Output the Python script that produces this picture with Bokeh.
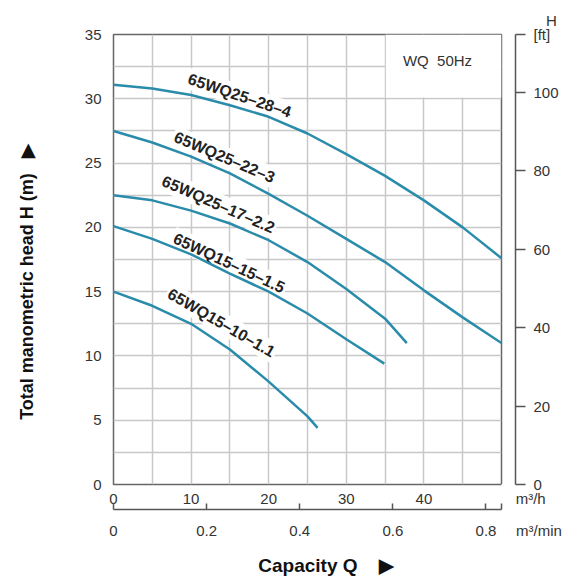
import numpy as np
from bokeh.plotting import figure
from bokeh.models import Range1d, LinearAxis, FixedTicker, ColumnDataSource
from bokeh.core.properties import value
from bokeh.embed import file_html
from bokeh.resources import INLINE

# ---------------- data ----------------
Q_MAX = 50          # m3/h
H_MAX = 35          # m
q_ticks = [0, 10, 20, 30, 40]
q_grid = [0, 5, 10, 15, 20, 25, 30, 35, 40, 45, 50]
h_ticks = [0, 5, 10, 15, 20, 25, 30, 35]
h_grid = [0, 2.5, 5, 7.5, 10, 12.5, 15, 17.5, 20, 22.5, 25, 27.5, 30, 32.5, 35]
min_ticks = [0, 0.2, 0.4, 0.6, 0.8]
min_tick_labels = ["0", "0.2", "0.4", "0.6", "0.8"]
ft_ticks = [0, 20, 40, 60, 80, 100]

pump_names = ["65WQ25–28–4", "65WQ25–22–3", "65WQ25–17–2.2", "65WQ15–15–1.5", "65WQ15–10–1.1"]

q_28_4 = [0, 5, 10, 15, 20, 25, 30, 35, 40, 45, 50]
h_28_4 = [31.1, 30.8, 30.3, 29.5, 28.6, 27.3, 25.7, 24.0, 22.1, 20.0, 17.6]

q_22_3 = [0, 5, 10, 15, 20, 25, 30, 35, 40, 45, 50]
h_22_3 = [27.5, 26.6, 25.5, 24.2, 22.6, 20.9, 19.1, 17.3, 15.1, 13.0, 11.0]

q_17_22 = [0, 5, 10, 15, 20, 25, 30, 35, 37.8]
h_17_22 = [22.5, 22.1, 21.3, 20.3, 19.0, 17.3, 15.2, 12.9, 11.0]

q_15_15 = [0, 5, 10, 15, 20, 25, 30, 34.9]
h_15_15 = [20.1, 19.1, 17.9, 16.4, 15.0, 13.3, 11.3, 9.4]

q_10_11 = [0, 5, 10, 15, 20, 25, 26.3]
h_10_11 = [15.0, 13.9, 12.5, 10.5, 8.0, 5.3, 4.4]

label_q = [16.25, 14.3, 13.5, 14.9, 13.9]
label_h = [30.26, 25.46, 21.79, 17.23, 12.58]
label_angle_deg = [-18.5, -23, -23.5, -25, -30]

# ---------------- styling ----------------
FONT = "Liberation Sans"
CURVE = "#2a8caa"
TXT = "#333333"
AXC = "#555555"
NB = "\u00a0"

Q_MIN_MAX = Q_MAX / 60
FT_MAX = H_MAX / 0.3048

p = figure(width=571, height=584, output_backend="svg", toolbar_location=None,
           x_range=Range1d(0, Q_MAX), y_range=Range1d(0, H_MAX),
           min_border_left=113, min_border_right=70, min_border_top=34, min_border_bottom=100,
           background_fill_color="white", border_fill_color="white")
p.extra_x_ranges = {"min": Range1d(0, Q_MIN_MAX)}
p.extra_y_ranges = {"ft": Range1d(0, FT_MAX)}

p.outline_line_color = "#666666"
p.outline_line_width = 1.5

p.xgrid.ticker = FixedTicker(ticks=q_grid)
p.ygrid.ticker = FixedTicker(ticks=h_grid)
p.xgrid.grid_line_color = "#c8c8c8"
p.ygrid.grid_line_color = "#c8c8c8"
p.xgrid.grid_line_width = 1.5
p.ygrid.grid_line_width = 1.5


def style_tick_labels(ax):
    ax.major_label_text_font = FONT
    ax.major_label_text_font_size = "15px"
    ax.major_label_text_color = TXT
    ax.minor_tick_line_color = None


# bottom axis m3/h  (unit written as the label of the range-end tick)
xa = p.xaxis[0]
xa.ticker = FixedTicker(ticks=q_ticks + [Q_MAX])
xa.major_label_overrides = {Q_MAX: NB * 14 + "m³/h"}
style_tick_labels(xa)
xa.axis_line_color = None
xa.major_tick_line_color = None
xa.major_tick_in = 0
xa.major_tick_out = 0
xa.major_label_standoff = 5

# left axis m
ya = p.yaxis[0]
ya.ticker = FixedTicker(ticks=h_ticks)
style_tick_labels(ya)
ya.axis_line_color = None
ya.major_tick_line_color = None
ya.major_tick_in = 0
ya.major_tick_out = 0
ya.major_label_standoff = 12
ya.axis_label = "Total manometric head H (m)" + NB * 3 + "▶" + NB * 9
ya.axis_label_text_font = FONT
ya.axis_label_text_font_style = "bold"
ya.axis_label_text_font_size = "18px"
ya.axis_label_text_color = "#111111"
ya.axis_label_standoff = 45

# second bottom axis m3/min
min_overrides = dict(zip(min_ticks, min_tick_labels))
min_overrides[Q_MIN_MAX] = NB * 18 + "m³/min"
xa2 = LinearAxis(x_range_name="min", ticker=FixedTicker(ticks=min_ticks + [Q_MIN_MAX]),
                 major_label_overrides=min_overrides)
style_tick_labels(xa2)
xa2.axis_line_color = AXC
xa2.axis_line_width = 1.5
xa2.major_tick_line_color = AXC
xa2.major_tick_line_width = 1.5
xa2.major_tick_in = 6
xa2.major_tick_out = 0
xa2.major_label_standoff = 12
xa2.axis_label = NB * 7 + "Capacity Q" + NB * 4 + "▶"
xa2.axis_label_text_font = FONT
xa2.axis_label_text_font_style = "bold"
xa2.axis_label_text_font_size = "19px"
xa2.axis_label_text_color = "#111111"
xa2.axis_label_standoff = 13
p.add_layout(xa2, "below")

# right: spacer (white tick, empty label) + ft axis
spacer = LinearAxis(y_range_name="ft", ticker=FixedTicker(ticks=[0]),
                    major_label_overrides={0: ""})
spacer.axis_line_color = None
spacer.major_tick_line_color = "white"
spacer.minor_tick_line_color = None
spacer.major_tick_in = 0
spacer.major_tick_out = 14
spacer.major_label_standoff = 0
p.add_layout(spacer, "right")

fta = LinearAxis(y_range_name="ft", ticker=FixedTicker(ticks=ft_ticks + [FT_MAX]),
                 major_label_overrides={FT_MAX: NB * 3 + "H\n[ft]\n" + NB})
style_tick_labels(fta)
fta.major_label_text_line_height = 0.85
fta.axis_line_color = AXC
fta.axis_line_width = 1.5
fta.major_tick_line_color = AXC
fta.major_tick_line_width = 1.5
fta.major_tick_in = 0
fta.major_tick_out = 10
fta.major_label_standoff = 8
p.add_layout(fta, "right")

# info box
BOX = dict(left=35.1, right=Q_MAX, bottom=30.1, top=H_MAX)
p.quad(left=[BOX["left"]], right=[BOX["right"]], bottom=[BOX["bottom"]], top=[BOX["top"]],
       fill_color="white", line_color=None)
p.text(x=[41.75], y=[32.95], text=["WQ " + NB + "50Hz"], text_font=value(FONT), text_font_size="15px",
       text_color=TXT, text_align="center", text_baseline="middle")

# curve labels (below the curves so the curves stay on top)
lab_src = ColumnDataSource(dict(x=label_q, y=label_h, text=pump_names,
                                angle=list(np.radians(label_angle_deg))))
p.text(x="x", y="y", text="text", angle="angle", source=lab_src,
       text_font=value(FONT), text_font_style="bold", text_font_size="16px",
       text_color="#222222", text_align="center", text_baseline="middle",
       background_fill_color="white", padding=2)

# curves
for q, h in [(q_28_4, h_28_4), (q_22_3, h_22_3), (q_17_22, h_17_22), (q_15_15, h_15_15), (q_10_11, h_10_11)]:
    p.line(x=q, y=h, line_color=CURVE, line_width=2.5)

open("out.html", "w").write(file_html(p, INLINE))
